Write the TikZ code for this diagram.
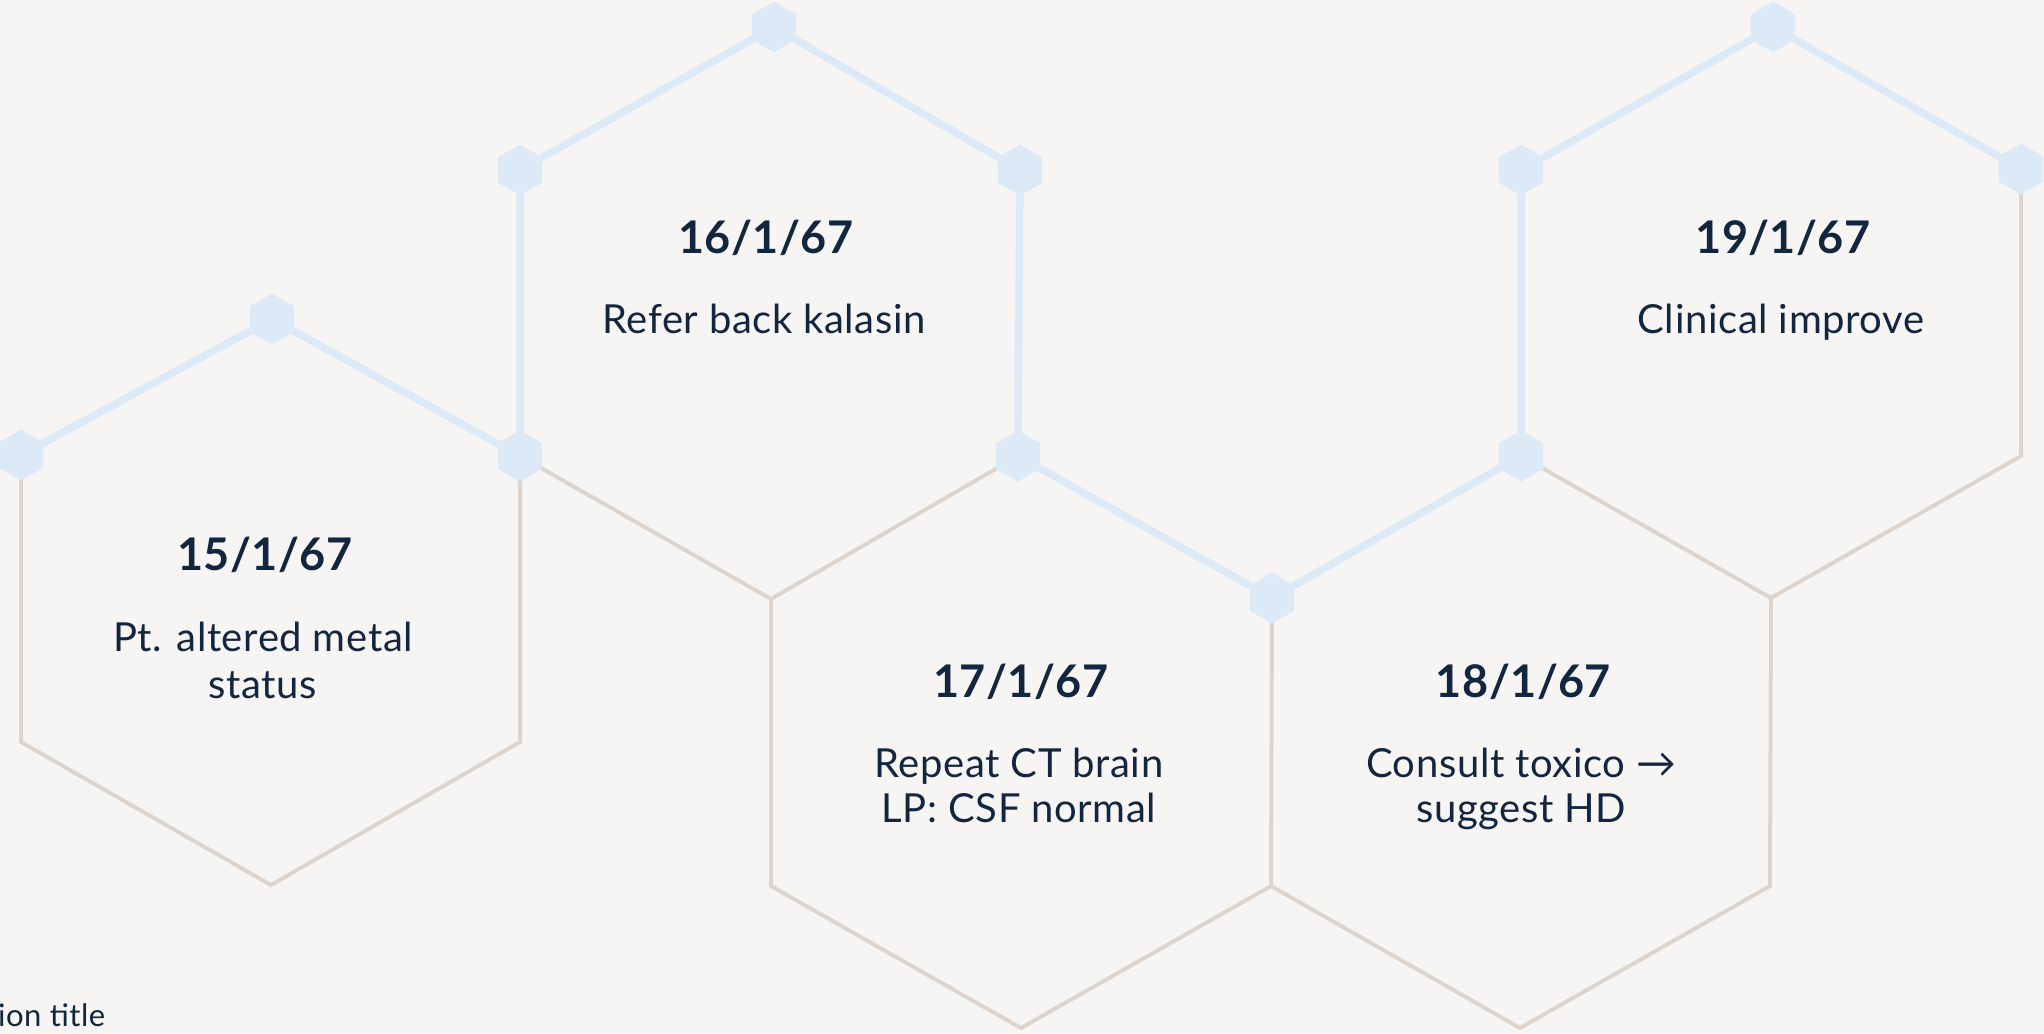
\documentclass[tikz,border=0pt]{standalone}
\usepackage{fontspec}
\setmainfont{Lato}
\newfontfamily\arrowfont{DejaVu Sans}
\usetikzlibrary{shapes.geometric}
\definecolor{bg}{HTML}{F7F5F3}
\definecolor{hexblue}{HTML}{DCE9F6}
\definecolor{hexbeige}{HTML}{DDD5CD}
\definecolor{ink}{HTML}{13263F}
\begin{document}
\begin{tikzpicture}[x=1pt,y=-1pt,
  beigeline/.style={draw=hexbeige, line width=4pt, line join=miter},
  blueline/.style={draw=hexblue, line width=7.5pt, line join=round},
  marker/.style={regular polygon, regular polygon sides=6, shape border rotate=30,
    fill=hexblue, minimum size=51pt, inner sep=0pt, draw=none},
  datetext/.style={font=\fontsize{45}{50}\selectfont\bfseries\addfontfeatures{LetterSpace=1}, text=ink, anchor=base, inner sep=0pt},
  bodytext/.style={font=\fontsize{40}{46}\selectfont\addfontfeatures{LetterSpace=1.5}, text=ink, anchor=base, inner sep=0pt},
]
\fill[bg] (0,0) rectangle (2044,1033);
\useasboundingbox (0,0) rectangle (2044,1033);

% vertices
\coordinate (a1) at (21,455);
\coordinate (a2) at (272,319);
\coordinate (a3) at (520,456);
\coordinate (a4) at (520,742);
\coordinate (a5) at (271,885);
\coordinate (a6) at (21,742);
\coordinate (b1) at (520,170);
\coordinate (b2) at (774,27);
\coordinate (b3) at (1020,170);
\coordinate (b4) at (1018,456);
\coordinate (b5) at (771,599);
\coordinate (c1) at (1272,598);
\coordinate (c2) at (1271,886);
\coordinate (c3) at (1021,1028);
\coordinate (c4) at (771,886);
\coordinate (d1) at (1521,456);
\coordinate (d2) at (1771,598);
\coordinate (d3) at (1770,886);
\coordinate (d4) at (1520,1028);
\coordinate (e1) at (1521,170);
\coordinate (e2) at (1773,27);
\coordinate (e3) at (2021,169);
\coordinate (e4) at (2021,456);

% beige edges
\draw[beigeline] (a1) -- (a6) -- (a5) -- (a4) -- (a3);
\draw[beigeline] (a3) -- (b5) -- (b4);
\draw[beigeline] (b5) -- (c4) -- (c3) -- (c2) -- (c1);
\draw[beigeline] (c2) -- (d4) -- (d3) -- (d2) -- (d1);
\draw[beigeline] (d2) -- (e4) -- (e3);

% blue path
\draw[blueline] (a1) -- (a2) -- (a3) -- (b1) -- (b2) -- (b3) -- (b4) -- (c1) -- (d1) -- (e1) -- (e2) -- (e3);

% markers
\foreach \v in {a1,a2,a3,b1,b2,b3,b4,c1,d1,e1,e2,e3}
  \node[marker] (m\v) at (\v) {};

% texts
\node[datetext] (d15) at (265,570) {15/1/67};
\node[bodytext] (t15a) at (263,651.7) {Pt. altered metal};
\node[bodytext] (t15b) at (263,698.3) {status};

\node[datetext] (d16) at (766,253.3) {16/1/67};
\node[bodytext] (t16a) at (764,333.3) {Refer back kalasin};

\node[datetext] (d17) at (1021,697.3) {17/1/67};
\node[bodytext] (t17a) at (1019,777.7) {Repeat CT brain};
\node[bodytext] (t17b) at (1019,822.7) {LP: CSF normal};

\node[datetext] (d18) at (1523.5,697.3) {18/1/67};
\node[bodytext] (t18a) at (1521,777.7) {Consult toxico →};
\node[bodytext] (t18b) at (1521,822.7) {suggest HD};

\node[datetext] (d19) at (1783,253.3) {19/1/67};
\node[bodytext] (t19a) at (1781,333.3) {Clinical improve};

\node[anchor=base west, inner sep=0pt, font=\fontsize{31}{36}\selectfont\addfontfeatures{LetterSpace=1.5}, text=ink] (sec) at (-2,1026.7) {ion title};
\end{tikzpicture}
\end{document}
